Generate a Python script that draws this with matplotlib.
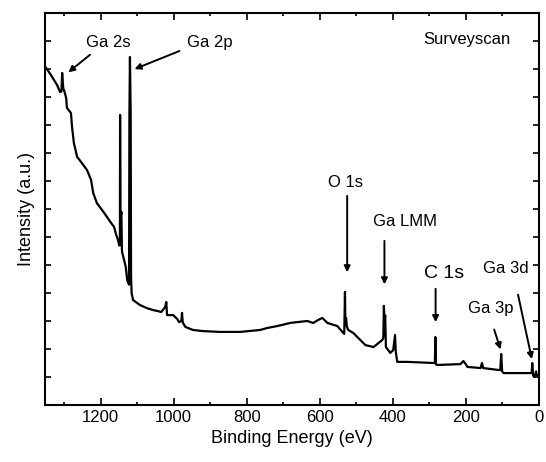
import matplotlib
matplotlib.use("Agg")
import matplotlib.pyplot as plt
from matplotlib.ticker import MultipleLocator, NullFormatter

plt.rcParams['font.family'] = ['Liberation Sans', 'DejaVu Sans']

# survey spectrum (binding energy in eV, intensity a.u.)
binding_energy = [1352, 1349, 1336, 1319, 1311, 1307, 1305, 1302, 1300, 1294, 1292, 1281, 1278,
                  1273, 1264, 1251, 1237, 1226, 1220, 1210, 1190, 1171, 1163, 1157, 1152, 1149,
                  1147, 1146.5, 1145.5, 1143, 1141.5, 1141, 1136, 1131, 1127, 1122, 1121, 1119.5,
                  1117.5, 1116.5, 1115, 1111, 1092, 1073, 1056, 1045, 1034, 1023, 1020, 1018,
                  1001, 990, 985, 979, 977, 975, 968, 947, 920, 873, 818, 763, 744, 716, 681,
                  662, 634, 618, 604, 593, 579, 552, 538, 533, 531, 530, 528, 526, 522, 508,
                  489, 475, 453, 429, 426, 424.5, 423, 421, 419, 407, 399, 394, 392, 388, 360,
                  289, 285, 283.5, 282, 278, 215, 207, 200, 196, 160, 156, 153, 111, 106, 103.5,
                  101, 97, 23, 20, 18.5, 16, 12, 8, 6, 0]
intensity = [12.1, 12.04, 11.79, 11.43, 11.18, 11.2, 11.86, 11.3, 11.25, 10.96, 10.61, 10.43, 9.93,
             9.36, 8.86, 8.64, 8.39, 8.04, 7.57, 7.21, 6.86, 6.5, 6.36, 6.07, 5.89, 5.7,
             5.7, 10.36, 6.6, 6.9, 5.55, 5.46, 5.2, 4.93, 4.46, 4.3, 10.36, 12.43,
             10.36, 4.6, 4.0, 3.75, 3.57, 3.46, 3.39, 3.36, 3.32, 3.5, 3.68, 3.21,
             3.21, 3.07, 2.96, 3.0, 3.29, 2.95, 2.79, 2.68, 2.64, 2.61, 2.61, 2.68, 2.75, 2.82, 2.93,
             2.96, 3.0, 2.93, 3.04, 3.11, 2.93, 2.82, 2.61, 2.54, 4.04, 2.9, 3.11, 2.8, 2.68, 2.57,
             2.32, 2.14, 2.07, 2.32, 2.4, 3.54, 2.9, 3.2, 2.07, 1.86, 1.96, 2.5, 1.9, 1.54, 1.54,
             1.5, 1.5, 2.43, 1.45, 1.43, 1.46, 1.57, 1.45, 1.36, 1.32, 1.5, 1.32, 1.25, 1.25, 1.82,
             1.2, 1.14, 1.14, 1.14, 1.5, 1.05, 1.0, 1.2, 1.05, 1.07]

# peak labels with their arrows (tail -> head)
labels = ["Ga 2s", "Ga 2p", "O 1s", "Ga LMM", "C 1s", "Ga 3d", "Ga 3p"]
text_pos = [(1179, 12.96), (900, 12.93), (530, 7.93), (366, 6.54), (261, 4.71), (92, 4.89), (133, 3.46)]
arrow_tail = [(1223, 12.57), (977, 12.68), (525, 7.57), (423, 5.96), (283, 4.25), (59, 4.04), (125, 2.79)]
arrow_head = [(1294, 11.82), (1114, 11.96), (525, 4.64), (423, 4.21), (283, 2.86), (18, 1.54), (103, 1.89)]
label_size = [12, 12, 12, 12, 14, 12, 12]

fig = plt.figure(figsize=(5.46, 4.62), dpi=100)
ax = fig.add_axes([45 / 546, 1 - 405 / 462, 494 / 546, 392 / 462])

ax.plot(binding_energy, intensity, color='black', lw=1.6)

for lab, tp, tail, head, fs in zip(labels, text_pos, arrow_tail, arrow_head, label_size):
    ax.text(tp[0], tp[1], lab, fontsize=fs, ha='center', va='center')
    ax.annotate("", xy=head, xytext=tail,
                arrowprops=dict(arrowstyle='-|>', color='black', lw=1.4, mutation_scale=9))

ax.text(196, 13.04, "Surveyscan", fontsize=12, ha='center', va='center')

ax.set_xlim(1352, 0)
ax.set_ylim(0, 14)
ax.xaxis.set_major_locator(MultipleLocator(200))
ax.xaxis.set_minor_locator(MultipleLocator(100))
ax.yaxis.set_major_locator(MultipleLocator(1))
ax.yaxis.set_major_formatter(NullFormatter())
ax.tick_params(which='both', direction='in', top=True, right=True, width=1.2)
ax.tick_params(which='major', length=5, labelsize=12)
ax.tick_params(axis='y', which='major', length=4)
ax.tick_params(which='minor', length=2.5)
for s in ax.spines.values():
    s.set_linewidth(1.5)

ax.set_xlabel("Binding Energy (eV)", fontsize=13)
ax.set_ylabel("Intensity (a.u.)", fontsize=13)

fig.savefig("out.png", dpi=100)
